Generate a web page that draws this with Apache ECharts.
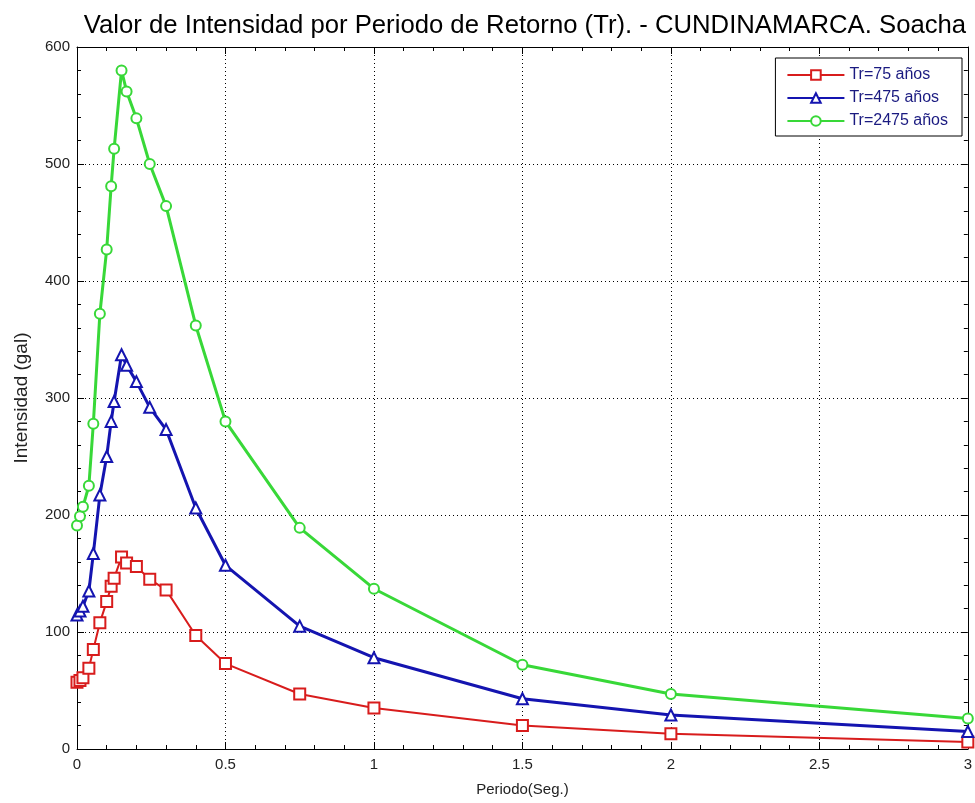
<!DOCTYPE html>
<html>
<head>
<meta charset="utf-8">
<script src="https://cdn.jsdelivr.net/npm/echarts@6/dist/echarts.min.js"></script>
<style>html,body{margin:0;padding:0;background:#fff}#c{width:975px;height:803px}</style>
</head>
<body>
<div id="c"></div>
<script>
const periods = [0, 0.01, 0.02, 0.04, 0.055, 0.077, 0.1, 0.115, 0.125, 0.15, 0.167, 0.2, 0.245, 0.3, 0.4, 0.5, 0.75, 1, 1.5, 2, 3];
const tr75   = [57, 58.5, 61, 69, 85, 108, 126, 139, 146, 164, 159, 156, 145, 136, 97, 73, 47, 35, 20, 13, 6];
const tr475  = [114.5, 118, 122, 135, 167, 217, 250, 280, 297, 337, 328, 314, 292, 273, 206, 157, 105, 78, 43, 29, 15];
const tr2475 = [191, 199, 207, 225, 278, 372, 427, 481, 513, 580, 562, 539, 500, 464, 362, 280, 189, 137, 72, 47, 26];
const seriesNames = ['Tr=75 años', 'Tr=475 años', 'Tr=2475 años'];
const xTicks = {min: 0, max: 3, interval: 0.5};
const yTicks = {min: 0, max: 600, interval: 100};

const FONT = 'Liberation Sans, Arial, sans-serif';
const colors = ['#d81c1c', '#1414b0', '#38d838'];
const symbols = ['emptyRect', 'emptyTriangle', 'emptyCircle'];
const widths = [2, 3, 3];
const data = [tr75, tr475, tr2475];

const chart = echarts.init(document.getElementById('c'), null, {renderer: 'canvas'});

function xAx(pos, showLabel) {
  return {
    type: 'value', position: pos, min: xTicks.min, max: xTicks.max, interval: xTicks.interval,
    axisLine: {show: true, onZero: false, lineStyle: {color: '#000', width: 1}},
    axisTick: {show: true, inside: true, length: 7, lineStyle: {color: '#000'}},
    minorTick: {show: true, splitNumber: 5, length: 4, lineStyle: {color: '#000'}},
    splitLine: {show: showLabel, lineStyle: {color: '#000', type: [1, 3], width: 1}},
    axisLabel: {show: showLabel, color: '#222', fontSize: 15, fontFamily: FONT, margin: 8,
      formatter: v => String(v)},
    name: showLabel ? 'Periodo(Seg.)' : '', nameLocation: 'middle', nameGap: 33,
    nameTextStyle: {color: '#222', fontSize: 15, fontFamily: FONT}
  };
}
function yAx(pos, showLabel) {
  return {
    type: 'value', position: pos, min: yTicks.min, max: yTicks.max, interval: yTicks.interval,
    axisLine: {show: true, onZero: false, lineStyle: {color: '#000', width: 1}},
    axisTick: {show: true, inside: true, length: 7, lineStyle: {color: '#000'}},
    minorTick: {show: true, splitNumber: 5, length: 4, lineStyle: {color: '#000'}},
    splitLine: {show: showLabel, lineStyle: {color: '#000', type: [1, 3], width: 1}},
    axisLabel: {show: showLabel, color: '#222', fontSize: 15, fontFamily: FONT, margin: 7},
    name: showLabel ? 'Intensidad (gal)' : '', nameLocation: 'middle', nameGap: 46,
    nameTextStyle: {color: '#222', fontSize: 19, fontFamily: FONT}
  };
}

chart.setOption({
  animation: false,
  backgroundColor: '#fff',
  title: {
    text: 'Valor de Intensidad por Periodo de Retorno (Tr). - CUNDINAMARCA. Soacha',
    left: 520, top: 8, textAlign: 'center',
    textStyle: {fontSize: 25.7, fontWeight: 'normal', color: '#000', fontFamily: FONT}
  },
  grid: {left: 77, right: 7, top: 47, bottom: 54, containLabel: false},
  legend: {
    orient: 'vertical', right: 13, top: 58,
    backgroundColor: '#fff', borderColor: '#000', borderWidth: 1,
    padding: [9, 14, 7, 11], itemGap: 7, itemWidth: 57, itemHeight: 12,
    textStyle: {fontSize: 16, color: '#1a1a80', fontFamily: FONT},
    data: seriesNames
  },
  xAxis: [xAx('bottom', true), xAx('top', false)],
  yAxis: [yAx('left', true), yAx('right', false)],
  series: data.map((vals, i) => ({
    name: seriesNames[i], type: 'line', xAxisIndex: 0, yAxisIndex: 0,
    data: periods.map((p, j) => [p, vals[j]]),
    symbol: symbols[i], symbolSize: i === 2 ? 10 : 11, showAllSymbol: true,
    clip: false,
    lineStyle: {color: colors[i], width: widths[i]},
    itemStyle: {color: colors[i], borderColor: colors[i], borderWidth: 2}
  }))
});
</script>
</body>
</html>
